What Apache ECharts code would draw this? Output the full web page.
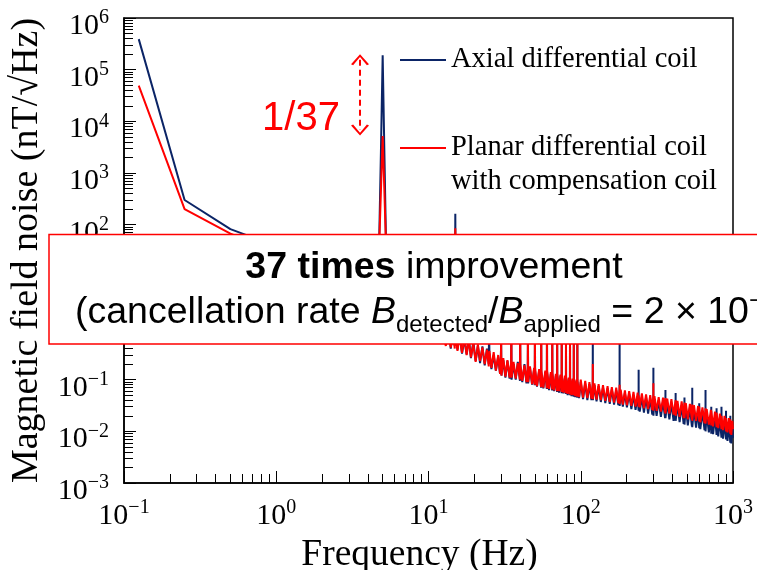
<!DOCTYPE html>
<html>
<head>
<meta charset="utf-8">
<script src="https://cdn.jsdelivr.net/npm/echarts@6/dist/echarts.min.js"></script>
<style>html,body{margin:0;padding:0;background:#fff}#c{width:757px;height:570px}</style>
</head>
<body>
<div id="c"></div>
<script>
// Frequency (Hz)
const freq = [
  0.125, 0.25, 0.5, 0.625, 0.75, 0.875, 1, 1.25, 1.5, 1.75,
  2, 2.5, 3, 3.5, 4, 4.5, 4.75, 4.875, 5, 5.125,
  5.25, 5.5, 6, 6.5, 7, 8, 9, 10, 11, 12,
  13, 13.5, 14, 14.5, 14.875, 15, 15.125, 15.5, 16, 16.6,
  17.2, 17.8, 18.4, 19, 19.7, 20.4, 21.1, 21.8, 22.6, 23.4,
  24.2, 24.875, 25, 25.125, 25.9, 26.8, 27.7, 28.7, 29.5, 29.875,
  30, 30.125, 31, 32, 33, 34.1, 34.875, 35, 35.125, 36.2,
  37.4, 38.6, 39.875, 40, 40.125, 41.3, 42.7, 44, 44.875, 45,
  45.125, 46.4, 47.9, 49.4, 49.875, 50, 50.125, 51.6, 53.3, 54.875,
  55, 55.125, 56.8, 58.5, 59.875, 60, 60.125, 61.9, 63.6, 64.875,
  65, 65.125, 66.9, 68.6, 69.875, 70, 70.125, 72, 73.6, 74.875,
  75, 75.125, 77, 78.6, 79.875, 80, 80.125, 82, 83.5, 84.875,
  85, 85.125, 87, 88.5, 89.875, 90, 90.125, 92, 93.6, 94.875,
  95, 95.125, 97.5, 100, 103.5, 107, 110.5, 114, 117.5, 119.875,
  120, 120.125, 123, 127, 131, 135.5, 140, 145, 150, 155,
  160, 165.5, 171, 176.5, 179.875, 180, 180.125, 183, 189, 195,
  201, 208, 215, 222, 229, 236.5, 239.875, 240, 240.125, 244,
  252, 260, 268.5, 277, 286, 295, 299.875, 300, 300.125, 305,
  315, 325, 336, 347, 358, 359.875, 360, 360.125, 370, 382,
  394, 407, 419.875, 420, 420.125, 432, 446, 460, 474, 479.875,
  480, 480.125, 490, 505, 521, 537, 539.875, 540, 540.125, 554,
  572, 590, 599.875, 600, 600.125, 610, 630, 650, 659.875, 660,
  660.125, 672, 694, 716, 719.875, 720, 720.125, 740, 762, 779.875,
  780, 780.125, 800, 820, 839.875, 840, 840.125, 860, 880, 899.875,
  900, 900.125, 920, 940, 959.875, 960, 960.125, 975, 990, 1000
];
// Axial differential coil (nT/√Hz)
const axial = [
  390000, 300, 82, 64, 50, 41, 34, 26, 20, 16,
  13, 10, 8, 6.5, 5.5, 5, 60, 3000, 190000, 3000,
  60, 4.5, 4, 3.6, 3.2, 2.7, 2.3, 1.9, 1.6, 1.3,
  0.5, 1.0, 0.4, 0.85, 0.45, 162, 0.8, 0.38, 0.75, 0.32,
  0.6, 0.31, 0.62, 0.26, 0.55, 0.23, 0.45, 0.21, 0.44, 0.19,
  0.4, 0.2, 1.0, 0.33, 0.16, 0.3, 0.15, 0.28, 0.13, 0.25,
  0.6, 0.12, 0.24, 0.11, 0.23, 0.105, 0.2, 0.8, 0.1, 0.2,
  0.1, 0.22, 0.095, 0.8, 0.18, 0.09, 0.2, 0.085, 0.16, 0.8,
  0.085, 0.17, 0.08, 0.16, 0.078, 0.8, 0.15, 0.073, 0.15, 0.07,
  0.8, 0.14, 0.068, 0.14, 0.066, 2.0, 0.14, 0.063, 0.13, 0.062,
  0.8, 0.13, 0.06, 0.12, 0.058, 0.7, 0.125, 0.056, 0.12, 0.055,
  0.8, 0.115, 0.054, 0.11, 0.053, 0.6, 0.11, 0.05, 0.105, 0.05,
  0.8, 0.1, 0.048, 0.1, 0.047, 0.6, 0.098, 0.046, 0.095, 0.045,
  0.8, 0.095, 0.044, 0.09, 0.042, 0.085, 0.04, 0.082, 0.04, 0.08,
  1.5, 0.04, 0.078, 0.038, 0.075, 0.037, 0.07, 0.035, 0.068, 0.034,
  0.065, 0.033, 0.062, 0.032, 0.06, 1.3, 0.031, 0.058, 0.03, 0.055,
  0.029, 0.053, 0.027, 0.05, 0.026, 0.048, 0.025, 0.155, 0.047, 0.024,
  0.046, 0.023, 0.045, 0.022, 0.043, 0.021, 0.042, 0.17, 0.02, 0.041,
  0.02, 0.04, 0.019, 0.038, 0.018, 0.037, 0.063, 0.018, 0.036, 0.017,
  0.035, 0.016, 0.034, 0.055, 0.016, 0.033, 0.015, 0.032, 0.014, 0.031,
  0.045, 0.0135, 0.03, 0.013, 0.029, 0.0125, 0.028, 0.07, 0.012, 0.027,
  0.0118, 0.026, 0.0115, 0.035, 0.025, 0.011, 0.024, 0.0105, 0.023, 0.063,
  0.01, 0.022, 0.0095, 0.021, 0.009, 0.03, 0.02, 0.0088, 0.019, 0.0085,
  0.028, 0.018, 0.008, 0.017, 0.0075, 0.03, 0.016, 0.0072, 0.0155, 0.007,
  0.025, 0.015, 0.0065, 0.014, 0.006, 0.02, 0.013, 0.0058, 0.012, 0.0075
];
// Planar differential coil with compensation coil (nT/√Hz)
const planar = [
  49000, 200, 67, 52, 40, 33, 28, 21, 16, 13,
  11, 8.5, 7, 5.6, 4.8, 4.4, 45, 500, 5200, 500,
  45, 4, 3.5, 3.1, 2.8, 2.4, 2, 1.7, 1.4, 1.1,
  0.45, 0.9, 0.42, 0.75, 0.4, 85, 0.7, 0.36, 0.7, 0.33,
  0.65, 0.3, 0.6, 0.27, 0.5, 0.22, 0.48, 0.23, 0.42, 0.2,
  0.38, 0.18, 0.3, 0.36, 0.17, 0.34, 0.15, 0.3, 0.13, 0.27,
  0.6, 0.12, 0.26, 0.115, 0.24, 0.11, 0.22, 1.2, 0.11, 0.22,
  0.105, 0.21, 0.1, 1.2, 0.2, 0.095, 0.19, 0.09, 0.18, 1.2,
  0.09, 0.18, 0.082, 0.17, 0.08, 1.2, 0.17, 0.075, 0.16, 0.072,
  1.2, 0.15, 0.07, 0.15, 0.068, 1.5, 0.15, 0.066, 0.14, 0.065,
  1.2, 0.14, 0.062, 0.13, 0.06, 1.0, 0.13, 0.06, 0.125, 0.058,
  1.2, 0.12, 0.056, 0.12, 0.055, 0.9, 0.115, 0.053, 0.11, 0.052,
  1.2, 0.11, 0.05, 0.105, 0.05, 0.9, 0.1, 0.048, 0.1, 0.047,
  1.2, 0.1, 0.046, 0.1, 0.045, 0.095, 0.044, 0.09, 0.043, 0.085,
  0.2, 0.042, 0.085, 0.041, 0.082, 0.04, 0.078, 0.039, 0.075, 0.037,
  0.072, 0.036, 0.07, 0.035, 0.066, 0.08, 0.034, 0.064, 0.033, 0.062,
  0.032, 0.06, 0.031, 0.058, 0.03, 0.056, 0.03, 0.05, 0.054, 0.029,
  0.054, 0.028, 0.052, 0.027, 0.05, 0.026, 0.049, 0.085, 0.025, 0.048,
  0.025, 0.046, 0.024, 0.045, 0.023, 0.044, 0.04, 0.022, 0.043, 0.022,
  0.042, 0.021, 0.04, 0.035, 0.02, 0.039, 0.019, 0.038, 0.018, 0.036,
  0.03, 0.018, 0.035, 0.017, 0.034, 0.017, 0.033, 0.035, 0.016, 0.032,
  0.016, 0.031, 0.0155, 0.025, 0.03, 0.015, 0.029, 0.0145, 0.028, 0.03,
  0.014, 0.027, 0.0135, 0.026, 0.013, 0.022, 0.025, 0.0125, 0.024, 0.012,
  0.02, 0.023, 0.0115, 0.022, 0.011, 0.02, 0.021, 0.0105, 0.02, 0.01,
  0.018, 0.019, 0.0095, 0.018, 0.009, 0.015, 0.017, 0.0085, 0.016, 0.011
];
// axis ranges / ticks
const xRange = [0.1, 1000];
const yRange = [0.001, 1000000];
const xMinorTicks = [
  0.2, 0.3, 0.4, 0.5, 0.6, 0.7, 0.8, 0.9,
  2, 3, 4, 5, 6, 7, 8, 9,
  20, 30, 40, 50, 60, 70, 80, 90,
  200, 300, 400, 500, 600, 700, 800, 900
];
const yMinorTicks = [
  2e-3, 3e-3, 4e-3, 5e-3, 6e-3, 7e-3, 8e-3, 9e-3,
  2e-2, 3e-2, 4e-2, 5e-2, 6e-2, 7e-2, 8e-2, 9e-2,
  2e-1, 3e-1, 4e-1, 5e-1, 6e-1, 7e-1, 8e-1, 9e-1,
  2, 3, 4, 5, 6, 7, 8, 9,
  20, 30, 40, 50, 60, 70, 80, 90,
  200, 300, 400, 500, 600, 700, 800, 900,
  2e3, 3e3, 4e3, 5e3, 6e3, 7e3, 8e3, 9e3,
  2e4, 3e4, 4e4, 5e4, 6e4, 7e4, 8e4, 9e4,
  2e5, 3e5, 4e5, 5e5, 6e5, 7e5, 8e5, 9e5
];
// ratio arrow annotation (data coords)
const arrowFreq = 3.55;
const arrowTop = 155000;
const arrowBottom = 6800;

const seriesNames = ['Axial differential coil', 'Planar differential coil with compensation coil'];
const legendLines = ['Axial differential coil', 'Planar differential coil', 'with compensation coil'];
const SERIF = "'Liberation Serif','Times New Roman',serif";
const SANS = "'Liberation Sans',Arial,sans-serif";
const BLUE = '#0b2466';
const RED = '#ff0000';

function powLabel(v) {
  const e = Math.round(Math.log10(v));
  return '{b|10}{s|' + (e < 0 ? '\u2212' + (-e) : String(e)) + '}';
}
const labelRich = {
  b: { fontFamily: SERIF, fontSize: 30, lineHeight: 31, verticalAlign: 'bottom', color: '#000' },
  s: { fontFamily: SERIF, fontSize: 20, lineHeight: 46, verticalAlign: 'middle', color: '#000' }
};

const chart = echarts.init(document.getElementById('c'), null, { renderer: 'canvas' });
const chevron = 'path://M0,9 L6,0 L12,9 L10.6,10 L6,2.4 L1.4,10 Z';
const legendText = { fontFamily: SERIF, fontSize: 28.5, color: '#000', lineHeight: 34 };

const option = {
  animation: false,
  backgroundColor: '#fff',
  grid: {
    left: 124, right: 24, top: 18, bottom: 87,
    show: true, borderColor: '#000', borderWidth: 1.5, backgroundColor: 'transparent',
    containLabel: false, outerBoundsMode: 'none'
  },
  xAxis: [
    {
      type: 'log', logBase: 10, min: xRange[0], max: xRange[1], interval: 1,
      position: 'bottom',
      name: 'Frequency (Hz)', nameLocation: 'middle', nameGap: 43,
      nameTextStyle: { fontFamily: SERIF, fontSize: 37.5, color: '#000', padding: [0, 18, 0, 0] },
      axisLine: { show: true, lineStyle: { color: '#000', width: 1.5 } },
      axisTick: { show: true, inside: true, length: 12, lineStyle: { color: '#000', width: 1 } },
      axisLabel: { show: true, margin: 2, formatter: powLabel, rich: labelRich, showMinLabel: true, showMaxLabel: true },
      splitLine: { show: false }, minorTick: { show: false }
    },
    {
      type: 'log', logBase: 10, min: xRange[0], max: xRange[1], interval: 1,
      position: 'bottom', gridIndex: 0,
      axisLine: { show: false },
      axisTick: { show: true, inside: true, length: 9, customValues: xMinorTicks, lineStyle: { color: '#000', width: 1 } },
      axisLabel: { show: false }, splitLine: { show: false }
    }
  ],
  yAxis: [
    {
      type: 'log', logBase: 10, min: yRange[0], max: yRange[1], interval: 1,
      position: 'left',
      name: 'Magnetic field noise (nT/\u221AHz)', nameLocation: 'middle', nameGap: 78, nameRotate: 90,
      nameTextStyle: { fontFamily: SERIF, fontSize: 38, color: '#000' },
      axisLine: { show: true, lineStyle: { color: '#000', width: 1.5 } },
      axisTick: { show: true, inside: true, length: 12, lineStyle: { color: '#000', width: 1 } },
      axisLabel: { show: true, margin: 15, formatter: powLabel, rich: labelRich, showMinLabel: true, showMaxLabel: true },
      splitLine: { show: false }, minorTick: { show: false }
    },
    {
      type: 'log', logBase: 10, min: yRange[0], max: yRange[1], interval: 1,
      position: 'left', gridIndex: 0,
      axisLine: { show: false },
      axisTick: { show: true, inside: true, length: 9, customValues: yMinorTicks, lineStyle: { color: '#000', width: 1 } },
      axisLabel: { show: false }, splitLine: { show: false }
    }
  ],
  legend: [
    {
      data: [seriesNames[0]], left: 400, top: 43, orient: 'vertical', padding: 0,
      icon: 'rect', itemWidth: 46, itemHeight: 2, selectedMode: false,
      formatter: function () { return legendLines[0]; },
      textStyle: legendText
    },
    {
      data: [seriesNames[1]], left: 400, top: 131, orient: 'vertical', padding: 0,
      icon: 'rect', itemWidth: 46, itemHeight: 2, selectedMode: false,
      formatter: function () { return legendLines[1]; },
      textStyle: legendText
    }
  ],
  series: [
    {
      name: seriesNames[0], type: 'line', xAxisIndex: 0, yAxisIndex: 0,
      data: freq.map(function (f, i) { return [f, axial[i]]; }),
      showSymbol: false, symbol: 'none', color: BLUE,
      lineStyle: { color: BLUE, width: 2 }, clip: true, z: 2
    },
    {
      name: seriesNames[1], type: 'line', xAxisIndex: 0, yAxisIndex: 0,
      data: freq.map(function (f, i) { return [f, planar[i]]; }),
      showSymbol: false, symbol: 'none', color: RED,
      lineStyle: { color: RED, width: 2 }, clip: true, z: 3,
      markLine: {
        silent: true, animation: false,
        symbol: [chevron, chevron], symbolSize: [18, 11],
        lineStyle: { color: RED, type: [6, 4], width: 2 },
        itemStyle: { color: RED },
        label: { show: false },
        emphasis: { disabled: true },
        data: [[{ coord: [arrowFreq, arrowTop] }, { coord: [arrowFreq, arrowBottom] }]]
      }
    }
  ],
  graphic: [
    {
      type: 'text', z: 50, left: 451, top: 165,
      style: { text: legendLines[2], fontFamily: SERIF, fontSize: 28.5, lineHeight: 34, fill: '#000' }
    },
    {
      type: 'text', z: 50, x: 301, y: 119,
      style: { text: '1/37', fontFamily: SANS, fontSize: 40, fill: RED, align: 'center', verticalAlign: 'middle' }
    },
    {
      type: 'rect', z: 100,
      shape: { x: 49, y: 234.5, width: 760, height: 109.5 },
      style: { fill: '#fff', stroke: RED, lineWidth: 1.5 }
    },
    {
      type: 'text', z: 101, x: 434, y: 268,
      style: {
        text: '{b|37 times}{r| improvement}', align: 'center', verticalAlign: 'middle',
        rich: {
          b: { fontFamily: SANS, fontSize: 37.5, fontWeight: 'bold', fill: '#000' },
          r: { fontFamily: SANS, fontSize: 37.5, fill: '#000' }
        }
      }
    },
    {
      type: 'text', z: 101, x: 75, y: 313,
      style: {
        text: '{n|(cancellation rate }{i|B}{sub|detected}{n|/}{i|B}{sub|applied}{n| = 2 \u00D7 10}{sup|\u22123}{n|)}',
        align: 'left', verticalAlign: 'middle',
        rich: {
          n: { fontFamily: SANS, fontSize: 37.5, lineHeight: 48, fill: '#000' },
          i: { fontFamily: SANS, fontSize: 37.5, lineHeight: 48, fontStyle: 'italic', fill: '#000' },
          sub: { fontFamily: SANS, fontSize: 24, lineHeight: 24, verticalAlign: 'bottom', fill: '#000' },
          sup: { fontFamily: SANS, fontSize: 24, lineHeight: 24, verticalAlign: 'top', fill: '#000' }
        }
      }
    }
  ]
};
chart.setOption(option);
</script>
</body>
</html>
